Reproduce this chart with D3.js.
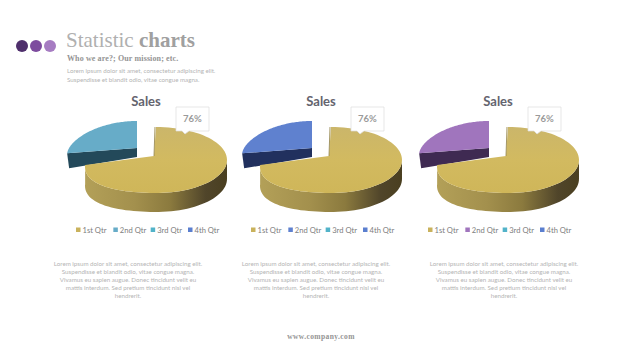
<!DOCTYPE html>
<html>
<head>
<meta charset="utf-8">
<script src="https://cdn.jsdelivr.net/npm/d3@7"></script>
<style>
  html, body { margin: 0; padding: 0; background: #fff; }
  text { font-family: Lato, "Open Sans", sans-serif; }
  .serif { font-family: "Liberation Serif", "DejaVu Serif", serif; }
</style>
</head>
<body>
<div id="chart"></div>
<script>
// data
const categories = ["1st Qtr", "2nd Qtr", "3rd Qtr", "4th Qtr"];
const salesValues = [76, 24, 0, 0];
const calloutLabel = "76%";
const chartTitle = "Sales";
const dotColors = ["#4f2f6c", "#7d4b9e", "#a67cc2"];
const charts = [
  { cx: 156, second: "#67acc8", secondDark: "#23495a", legend: ["#c9b25c", "#67acc8", "#52b3c9", "#5b7fcf"] },
  { cx: 331, second: "#5f81cf", secondDark: "#21305e", legend: ["#c9b25c", "#5f81cf", "#52b3c9", "#5b7fcf"] },
  { cx: 508, second: "#a075bd", secondDark: "#3f2a52", legend: ["#c9b25c", "#a075bd", "#52b3c9", "#5b7fcf"] }
];
const introLines = [
  "Lorem ipsum dolor sit amet, consectetur adipiscing elit.",
  "Suspendisse et blandit odio, vitae congue magna."
];
const bodyLines = [
  "Lorem ipsum dolor sit amet, consectetur adipiscing elit.",
  "Suspendisse et blandit odio, vitae congue magna.",
  "Vivamus eu sapien augue. Donec tincidunt velit eu",
  "mattis interdum. Sed pretium tincidunt nisl vel",
  "hendrerit."
];
const bodyCenters = [128, 316, 504];

const svg = d3.select("#chart").append("svg")
  .attr("width", 640)
  .attr("height", 360);

const defs = svg.append("defs");

// side of the big slice
const sideGrad = defs.append("linearGradient").attr("id", "goldSide");
[[0, "#b3a058"], [0.35, "#a3904d"], [0.6, "#8b7a3e"], [0.85, "#50452a"], [1, "#4a3f20"]].forEach(s => {
  sideGrad.append("stop").attr("offset", s[0]).attr("stop-color", s[1]);
});
const topGrad = defs.append("linearGradient").attr("id", "goldTop")
  .attr("x1", 0).attr("x2", 0).attr("y1", 0).attr("y2", 1);
[[0, "#cbb66a"], [0.5, "#d2ba60"], [1, "#cfb659"]].forEach(s => {
  topGrad.append("stop").attr("offset", s[0]).attr("stop-color", s[1]);
});

// header
svg.selectAll(".dot").data(dotColors).enter().append("circle")
  .attr("class", "dot")
  .attr("cx", (d, i) => 22 + i * 14)
  .attr("cy", 46)
  .attr("r", 6)
  .attr("fill", d => d);

const title = svg.append("text").attr("class", "serif")
  .attr("x", 66).attr("y", 47)
  .attr("font-size", 21).attr("fill", "#b0b0b0");
title.append("tspan").text("Statistic ");
title.append("tspan").attr("font-weight", "bold").attr("fill", "#a0a0a0").text("charts");

svg.append("text").attr("class", "serif")
  .attr("x", 67).attr("y", 61)
  .attr("font-size", 8).attr("font-weight", "bold").attr("fill", "#949494")
  .attr("letter-spacing", 0.12)
  .text("Who we are?; Our mission; etc.");

svg.selectAll(".intro").data(introLines).enter().append("text")
  .attr("class", "intro")
  .attr("x", 67)
  .attr("y", (d, i) => 73 + i * 9)
  .attr("font-size", 6.2)
  .attr("fill", "#b4b4b4")
  .text(d => d);

// project an angle on the tilted disc, the left side sags towards the viewer
const sag = 7;
function project(c, a) {
  const s = Math.sin(a);
  return [c.x + c.rx * s, c.y - c.ry * Math.cos(a) + (s < 0 ? sag * s * s : 0)];
}
function ringPoints(c, a0, a1) {
  return d3.range(0, 81).map(i => project(c, a0 + (a1 - a0) * i / 80));
}
const lineGen = d3.line();
const pie = d3.pie().sort(null);

charts.forEach((chart, k) => {
  const g = svg.append("g");
  const arcs = pie(salesValues);
  const big = arcs[0], small = arcs[1];

  g.append("text")
    .attr("x", chart.cx - 10)
    .attr("y", 106)
    .attr("font-size", 13)
    .attr("font-weight", "bold")
    .attr("fill", "#64646e")
    .attr("text-anchor", "middle")
    .text(chartTitle);

  // exploded slice
  const c2 = { x: chart.cx - 19, y: 148, rx: 70, ry: 27 };
  const rim2 = ringPoints(c2, small.startAngle, small.endAngle);
  const apex2 = [c2.x, c2.y];
  const rimStart = rim2[0];
  g.append("path")
    .attr("d", lineGen([rimStart, apex2, [apex2[0], apex2[1] + 9], [rimStart[0] + 2, rimStart[1] + 15]]) + "Z")
    .attr("fill", chart.secondDark);
  g.append("path")
    .attr("d", lineGen([apex2].concat(rim2)) + "Z")
    .attr("fill", chart.second);

  // big slice
  const c1 = { x: chart.cx, y: 160, rx: 71, ry: 33 };
  const apex1 = [chart.cx - 2, 156];
  const depth = 19;
  const rim1 = ringPoints(c1, big.startAngle, big.endAngle);
  const rightIdx = d3.range(rim1.length).filter(i => rim1[i][0] >= d3.max(rim1, p => p[0]) - 0.01)[0];
  const front = rim1.slice(rightIdx);
  g.append("path")
    .attr("d", lineGen(front.concat(front.slice().reverse().map(p => [p[0], p[1] + depth]))) + "Z")
    .attr("fill", "url(#goldSide)");
  g.append("path")
    .attr("d", lineGen([apex1].concat(rim1)) + "Z")
    .attr("fill", "url(#goldTop)");
  g.append("line")
    .attr("x1", apex1[0]).attr("y1", apex1[1])
    .attr("x2", rim1[0][0] - 1).attr("y2", rim1[0][1])
    .attr("stroke", "#8d7c3f").attr("stroke-width", 0.8);

  // callout
  const bx = chart.cx + 20, by = 107;
  g.append("path")
    .attr("d", `M${bx},${by}h33v24h-20l-4,3l-3,-3h-6Z`)
    .attr("fill", "#fff")
    .attr("stroke", "#dcdcdc")
    .attr("stroke-width", 0.7);
  g.append("text")
    .attr("x", bx + 16.5).attr("y", by + 15)
    .attr("font-size", 9.5).attr("font-weight", "bold")
    .attr("fill", "#9a9a9a").attr("text-anchor", "middle")
    .text(calloutLabel);

  // legend
  const legendX = d3.scalePoint().domain(categories).range([chart.cx - 80, chart.cx + 32]);
  const item = g.selectAll(".legend").data(categories).enter().append("g")
    .attr("class", "legend")
    .attr("transform", d => `translate(${legendX(d)},230)`);
  item.append("rect")
    .attr("y", -2.5).attr("width", 4.5).attr("height", 4.5)
    .attr("fill", (d, i) => chart.legend[i]);
  item.append("text")
    .attr("x", 6.5).attr("y", 3)
    .attr("font-size", 7.6).attr("fill", "#7d7d7d")
    .text(d => d);

  // description
  g.selectAll(".body").data(bodyLines).enter().append("text")
    .attr("class", "body")
    .attr("x", bodyCenters[k])
    .attr("y", (d, i) => 266 + i * 8.1)
    .attr("font-size", 6.2)
    .attr("fill", "#b4b4b4")
    .attr("text-anchor", "middle")
    .text(d => d);
});

svg.append("text").attr("class", "serif")
  .attr("x", 321).attr("y", 339)
  .attr("font-size", 7.5).attr("font-weight", "bold")
  .attr("fill", "#949494").attr("text-anchor", "middle")
  .attr("letter-spacing", 0.4)
  .text("www.company.com");
</script>
</body>
</html>
